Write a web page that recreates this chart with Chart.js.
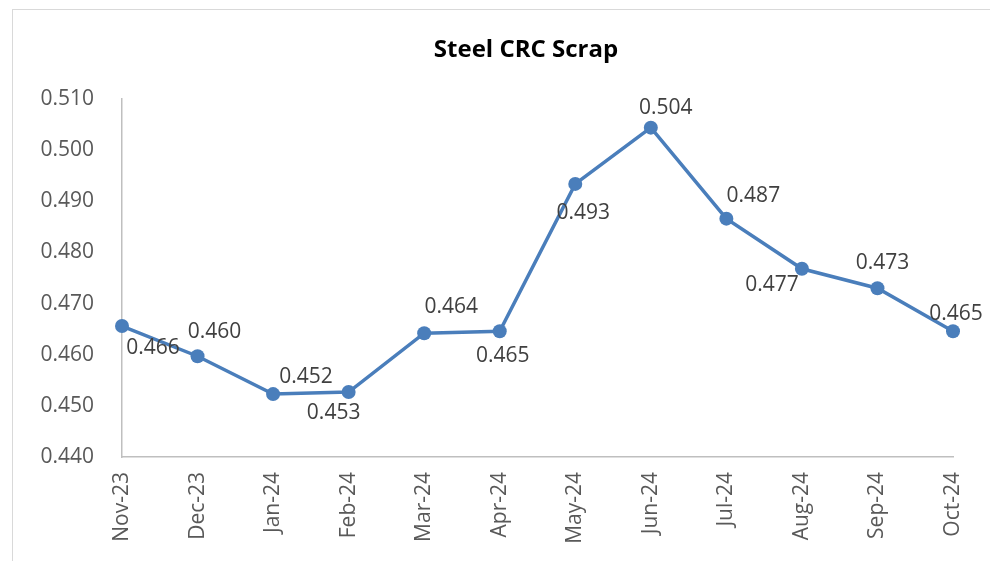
<!DOCTYPE html>
<html>
<head>
<meta charset="utf-8">
<script src="https://cdn.jsdelivr.net/npm/chart.js@4/dist/chart.umd.min.js"></script>
<style>
  html, body { margin: 0; padding: 0; background: #fff; overflow: hidden; }
  .frame { position: absolute; left: 12px; top: 9px; width: 1060px; height: 620px; border: 1.5px solid #d9d9d9; }
  #chart { position: absolute; left: 13px; top: 10px; }
</style>
</head>
<body>
<div class="frame"></div>
<canvas id="chart" width="1026" height="551"></canvas>
<script>
// 데이터
const months = ['Nov-23', 'Dec-23', 'Jan-24', 'Feb-24', 'Mar-24', 'Apr-24',
                'May-24', 'Jun-24', 'Jul-24', 'Aug-24', 'Sep-24', 'Oct-24'];
const scrapPrices = [0.4656, 0.4597, 0.4523, 0.4527, 0.4642, 0.4646,
                     0.4934, 0.5044, 0.4866, 0.4768, 0.4730, 0.4646];
const yMin = 0.44;
const yMax = 0.51;
const yStep = 0.01;
const chartTitle = 'Steel CRC Scrap';

// 라벨 위치 (점 기준 오프셋, px)
const labelOffsets = [[31, 22], [17, -24], [33, -17], [-15, 21], [27, -26], [3, 25],
                      [8, 29], [15, -20], [27, -23], [-30, 16], [5, -25], [3, -17]];

const lineColor = '#4a7ebb';

// 제목 + 데이터 라벨 그리기
const labelPlugin = {
    id: 'labelPlugin',
    afterDatasetsDraw(chart) {
        const ctx = chart.ctx;
        const meta = chart.getDatasetMeta(0);
        ctx.save();
        ctx.font = '21px "Open Sans"';
        ctx.fillStyle = '#404040';
        ctx.textAlign = 'center';
        ctx.textBaseline = 'middle';
        meta.data.forEach((pt, i) => {
            const off = labelOffsets[i];
            ctx.fillText(scrapPrices[i].toFixed(3), pt.x + off[0], pt.y + off[1]);
        });
        ctx.font = 'bold 24px "Open Sans"';
        ctx.fillStyle = '#000';
        ctx.fillText(chartTitle, chart.width / 2, 40);
        ctx.restore();
    }
};

new Chart(document.getElementById('chart').getContext('2d'), {
    type: 'line',
    data: {
        labels: months,
        datasets: [{
            label: chartTitle,
            data: scrapPrices,
            borderColor: lineColor,
            backgroundColor: lineColor,
            borderWidth: 3.5,
            pointRadius: 7,
            pointBorderWidth: 0,
            pointBackgroundColor: lineColor,
            tension: 0
        }]
    },
    options: {
        responsive: false,
        animation: false,
        devicePixelRatio: 1,
        layout: { padding: { top: 89, right: 86, bottom: 0, left: 0 } },
        plugins: {
            legend: { display: false },
            title: { display: false },
            tooltip: { enabled: false }
        },
        scales: {
            x: {
                offset: false,
                grid: { display: false, drawTicks: false },
                border: { display: true, color: '#bfbfbf', width: 1.5 },
                ticks: {
                    color: '#595959',
                    font: { family: 'Open Sans', size: 21 },
                    minRotation: 90,
                    maxRotation: 90,
                    padding: 15,
                    autoSkip: false
                },
                afterFit(scale) { scale.height = 104; }
            },
            y: {
                min: yMin,
                max: yMax,
                grid: { display: false, drawTicks: false },
                border: { display: true, color: '#bfbfbf', width: 1.5 },
                ticks: {
                    stepSize: yStep,
                    color: '#595959',
                    font: { family: 'Open Sans', size: 21 },
                    padding: 28,
                    callback: v => v.toFixed(3)
                },
                afterFit(scale) { scale.width = 109; }
            }
        }
    },
    plugins: [labelPlugin]
});
</script>
</body>
</html>
